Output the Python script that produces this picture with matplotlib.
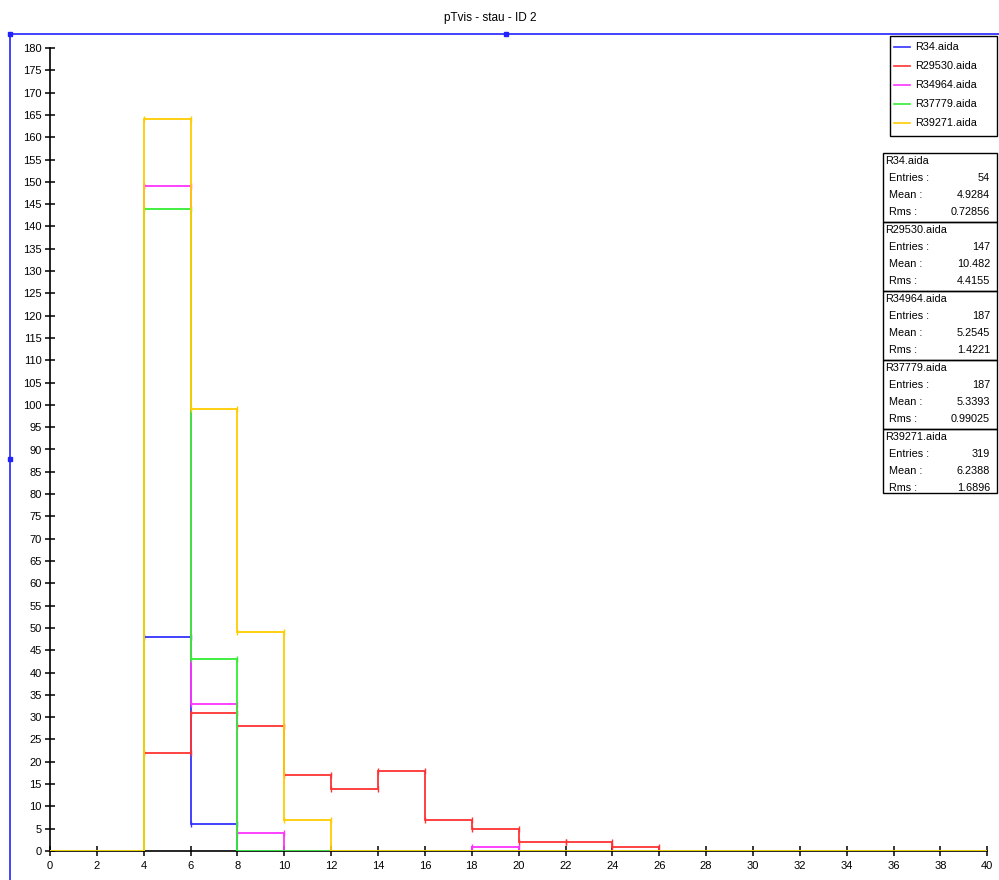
import matplotlib
matplotlib.use("Agg")
import matplotlib.pyplot as plt
import numpy as np
from matplotlib.lines import Line2D
from matplotlib.patches import Rectangle

plt.rcParams['font.family'] = ['Liberation Sans', 'DejaVu Sans']

# histogram: 20 bins of width 2 between 0 and 40
edges = np.arange(0, 42, 2)
names = ["R34.aida", "R29530.aida", "R34964.aida", "R37779.aida", "R39271.aida"]
colors = ["#3333ff", "#ff3333", "#ff33ff", "#33ee33", "#ffcc00"]

r34 = [0, 0, 48, 6, 0, 0, 0, 0, 0, 0, 0, 0, 0, 0, 0, 0, 0, 0, 0, 0]
r29530 = [0, 0, 22, 31, 28, 17, 14, 18, 7, 5, 2, 2, 1, 0, 0, 0, 0, 0, 0, 0]
r34964 = [0, 0, 149, 33, 4, 0, 0, 0, 0, 1, 0, 0, 0, 0, 0, 0, 0, 0, 0, 0]
r37779 = [0, 0, 144, 43, 0, 0, 0, 0, 0, 0, 0, 0, 0, 0, 0, 0, 0, 0, 0, 0]
r39271 = [0, 0, 164, 99, 49, 7, 0, 0, 0, 0, 0, 0, 0, 0, 0, 0, 0, 0, 0, 0]
series = [r34, r29530, r34964, r37779, r39271]

means = ["4.9284", "10.482", "5.2545", "5.3393", "6.2388"]
rmss = ["0.72856", "4.4155", "1.4221", "0.99025", "1.6896"]

W, H = 999, 880
fig = plt.figure(figsize=(W / 100, H / 100), dpi=100)
fig.patch.set_facecolor("white")

def fx(px):
    return px / W

def fy(py):
    return 1 - py / H

ax = fig.add_axes([fx(50), fy(851), (W - 50) / W, (851 - 48) / H])
ax.set_xlim(0, 40.5)
ax.set_ylim(0, 180)
for s in ["top", "right"]:
    ax.spines[s].set_visible(False)
ax.spines["bottom"].set_bounds(0, 40)
ax.spines["left"].set_bounds(0, 180)
ax.spines["left"].set_linewidth(1.2)
ax.spines["bottom"].set_linewidth(1.2)
ax.set_xticks(np.arange(0, 41, 2))
ax.set_yticks(np.arange(0, 181, 5))
ax.tick_params(direction="inout", length=7, width=1.1, labelsize=8, pad=2.5)
ax.tick_params(axis="x", pad=3.5)
ax.patch.set_alpha(0)

for vals, c in zip(series, colors):
    ax.stairs(vals, edges, baseline=None, color=c, lw=1.3, zorder=3)
    # little end marks on the filled bins
    for i, v in enumerate(vals):
        if v > 0:
            ax.plot([edges[i], edges[i + 1]], [v, v], ls="none", marker="|",
                    ms=4, mew=1, color=c, zorder=3, clip_on=False)

# title and the blue frame
fig.text(fx(490), fy(18), "pTvis - stau - ID 2", ha="center", va="center", fontsize=8.5)
fig.add_artist(Line2D([fx(10), fx(999)], [fy(34), fy(34)], color="#2222ff", lw=1.2))
fig.add_artist(Line2D([fx(10), fx(10)], [fy(34), fy(880)], color="#2222ff", lw=1.2))
for px, py in [(10, 34), (506, 34), (10, 459)]:
    fig.add_artist(Line2D([fx(px)], [fy(py)], marker="s", ms=3.5, color="#2222ff"))

# legend box
fig.add_artist(Rectangle((fx(890), fy(136)), fx(997) - fx(890), fy(36) - fy(136),
                         transform=fig.transFigure, fill=True, fc="white", ec="black", lw=1))
for k, (nm, c) in enumerate(zip(names, colors)):
    y = 47 + 19 * k
    fig.add_artist(Line2D([fx(894), fx(910)], [fy(y), fy(y)], color=c, lw=1.2))
    fig.text(fx(915), fy(y), nm, ha="left", va="center", fontsize=7.8)

# statistics boxes
top0, bh = 153, 69
for k in range(5):
    top = top0 + bh * k
    bot = top + bh if k < 4 else top + 64
    fig.add_artist(Rectangle((fx(883), fy(bot)), fx(997) - fx(883), fy(top) - fy(bot),
                             transform=fig.transFigure, fill=False, ec="black", lw=1, zorder=5))
    fig.text(fx(885), fy(top + 8), names[k], ha="left", va="center", fontsize=7.8)
    rows = [("Entries :", str(sum(series[k]))), ("Mean :", means[k]), ("Rms :", rmss[k])]
    for j, (lab, val) in enumerate(rows):
        y = top + 25 + 17 * j
        fig.text(fx(889), fy(y), lab, ha="left", va="center", fontsize=7.8)
        fig.text(fx(990), fy(y), val, ha="right", va="center", fontsize=7.8)

fig.savefig("out.png", dpi=100)
